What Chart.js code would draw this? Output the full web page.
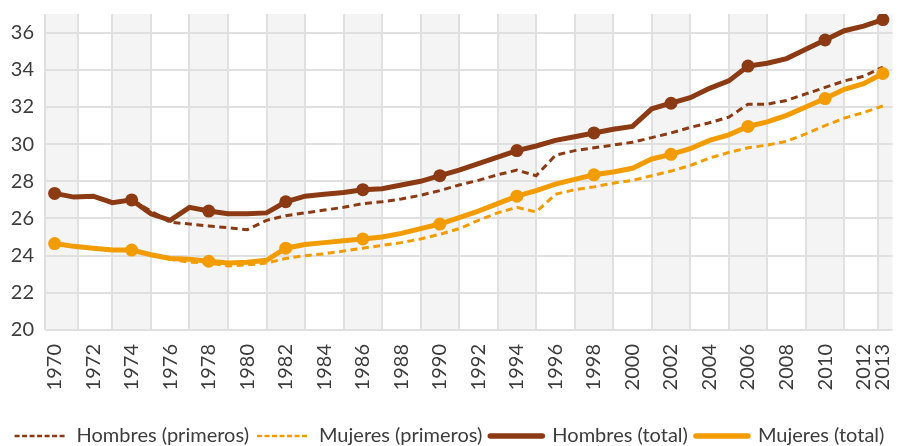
<!DOCTYPE html>
<html>
<head>
<meta charset="utf-8">
<script src="https://cdn.jsdelivr.net/npm/chart.js@4.4.1/dist/chart.umd.min.js"></script>
<style>
  html, body { margin: 0; padding: 0; background: #fff; }
  #wrap { width: 899px; height: 446px; }
</style>
</head>
<body>
<div id="wrap"><canvas id="edadChart"></canvas></div>
<script>
const years = [1970, 1971, 1972, 1973, 1974, 1975, 1976, 1977, 1978, 1979,
  1980, 1981, 1982, 1983, 1984, 1985, 1986, 1987, 1988, 1989,
  1990, 1991, 1992, 1993, 1994, 1995, 1996, 1997, 1998, 1999,
  2000, 2001, 2002, 2003, 2004, 2005, 2006, 2007, 2008, 2009,
  2010, 2011, 2012, 2013];

const hombresPrimeros = [27.35, 27.15, 27.2, 26.85, 27.0, 26.4, 25.8, 25.7, 25.6, 25.5,
  25.4, 25.9, 26.15, 26.3, 26.45, 26.6, 26.8, 26.9, 27.05, 27.25,
  27.5, 27.8, 28.05, 28.35, 28.6, 28.3, 29.4, 29.65, 29.8, 29.95,
  30.1, 30.35, 30.6, 30.9, 31.15, 31.45, 32.15, 32.15, 32.35, 32.7,
  33.05, 33.4, 33.65, 34.15];

const mujeresPrimeros = [24.65, 24.5, 24.4, 24.3, 24.3, 24.05, 23.8, 23.65, 23.6, 23.45,
  23.5, 23.6, 23.85, 24.0, 24.1, 24.25, 24.4, 24.55, 24.7, 24.9,
  25.15, 25.45, 25.9, 26.3, 26.6, 26.35, 27.3, 27.55, 27.7, 27.9,
  28.05, 28.3, 28.55, 28.85, 29.25, 29.55, 29.8, 29.95, 30.15, 30.55,
  31.0, 31.4, 31.7, 32.05];

const hombresTotal = [27.35, 27.15, 27.2, 26.85, 27.0, 26.25, 25.9, 26.6, 26.4, 26.25,
  26.25, 26.3, 26.9, 27.2, 27.3, 27.4, 27.55, 27.6, 27.8, 28.0,
  28.3, 28.6, 28.95, 29.3, 29.65, 29.9, 30.2, 30.4, 30.6, 30.8,
  30.95, 31.9, 32.2, 32.5, 33.0, 33.4, 34.2, 34.35, 34.6, 35.1,
  35.6, 36.1, 36.35, 36.7];

const mujeresTotal = [24.65, 24.5, 24.4, 24.3, 24.3, 24.05, 23.85, 23.8, 23.7, 23.6,
  23.65, 23.75, 24.4, 24.6, 24.7, 24.8, 24.9, 25.0, 25.2, 25.45,
  25.7, 26.05, 26.4, 26.8, 27.2, 27.5, 27.85, 28.1, 28.35, 28.5,
  28.7, 29.2, 29.45, 29.75, 30.2, 30.5, 30.95, 31.2, 31.55, 32.0,
  32.45, 32.95, 33.25, 33.8];

const seriesNames = ["Hombres (primeros)", "Mujeres (primeros)", "Hombres (total)", "Mujeres (total)"];

const BROWN = "#8b3a13";
const ORANGE = "#f39c00";
const GRID = "#e0e0e0";
const BAND = "#f4f4f4";
const TEXT = "#3c3c3c";

// column edges (in years) for the alternating grey/white bands
const bandEdges = [1969.5, 1971.2, 1973, 1975, 1977, 1979, 1981, 1983, 1985, 1987, 1989,
  1991, 1993, 1995, 1997, 1999, 2001, 2003, 2005, 2007, 2009, 2011, 2012.75, 2013.5];

const columnBands = {
  id: "columnBands",
  beforeDraw(chart) {
    const { ctx, chartArea: a, scales: { x } } = chart;
    const px = yr => x.getPixelForValue(yr - years[0]);
    ctx.save();
    for (let i = 0; i < bandEdges.length - 1; i++) {
      if (i % 2 === 0) {
        const l = px(bandEdges[i]), r = px(bandEdges[i + 1]);
        ctx.fillStyle = BAND;
        ctx.fillRect(l, a.top, r - l, a.bottom - a.top);
      }
    }
    ctx.strokeStyle = GRID;
    ctx.lineWidth = 2;
    for (let i = 0; i < bandEdges.length - 1; i++) {
      const p = Math.round(px(bandEdges[i]));
      ctx.beginPath();
      ctx.moveTo(p, a.top);
      ctx.lineTo(p, a.bottom);
      ctx.stroke();
    }
    ctx.restore();
  }
};

// markers every four years and on the last one
const markerRadius = ctx => {
  const yr = years[ctx.dataIndex];
  return ((yr - 1970) % 4 === 0 || ctx.dataIndex === years.length - 1) ? 6.5 : 0;
};

// legend samples: thin dashes for "primeros", thick round-capped line for "total"
const legendItems = chart => chart.data.datasets.map((d, i) => ({
  text: d.label,
  datasetIndex: i,
  fillStyle: d.borderColor,
  strokeStyle: d.borderColor,
  fontColor: TEXT,
  lineWidth: d.borderDash ? 2.5 : 5.5,
  lineDash: d.borderDash ? [5, 2.5] : [],
  lineCap: d.borderDash ? "butt" : "round",
  pointStyle: "line",
  hidden: false
}));

const ctx = document.getElementById("edadChart").getContext("2d");

new Chart(ctx, {
  type: "line",
  data: {
    labels: years.map(String),
    datasets: [
      {
        label: seriesNames[0],
        data: hombresPrimeros,
        borderColor: BROWN,
        backgroundColor: BROWN,
        borderWidth: 3,
        borderDash: [7, 4.5],
        pointRadius: 0,
        order: 2
      },
      {
        label: seriesNames[1],
        data: mujeresPrimeros,
        borderColor: ORANGE,
        backgroundColor: ORANGE,
        borderWidth: 3,
        borderDash: [7, 4.5],
        pointRadius: 0,
        order: 2
      },
      {
        label: seriesNames[2],
        data: hombresTotal,
        borderColor: BROWN,
        backgroundColor: BROWN,
        borderWidth: 5,
        borderCapStyle: "round",
        pointRadius: markerRadius,
        pointBackgroundColor: BROWN,
        pointBorderWidth: 0,
        order: 1
      },
      {
        label: seriesNames[3],
        data: mujeresTotal,
        borderColor: ORANGE,
        backgroundColor: ORANGE,
        borderWidth: 5,
        borderCapStyle: "round",
        pointRadius: markerRadius,
        pointBackgroundColor: ORANGE,
        pointBorderWidth: 0,
        order: 1
      }
    ]
  },
  options: {
    responsive: true,
    maintainAspectRatio: false,
    animation: false,
    layout: { padding: { top: 14, right: 0, left: 0, bottom: -10 } },
    plugins: {
      tooltip: { enabled: false },
      legend: {
        position: "bottom",
        labels: {
          usePointStyle: true,
          pointStyle: "line",
          pointStyleWidth: 52,
          boxWidth: 52,
          padding: 8,
          color: TEXT,
          font: { family: "Lato", size: 20 },
          generateLabels: legendItems
        }
      }
    },
    scales: {
      x: {
        offset: true,
        grid: { display: false },
        border: { display: false },
        ticks: {
          autoSkip: false,
          minRotation: 90,
          maxRotation: 90,
          padding: 6,
          color: TEXT,
          font: { family: "Lato", size: 20 },
          callback: (v, i) => (years[i] % 2 === 0 || i === years.length - 1) ? years[i] : ""
        },
        afterFit: s => { s.height = 88; s.paddingLeft = 0; s.paddingRight = 0; }
      },
      y: {
        min: 20,
        max: 37,
        grid: { color: GRID, lineWidth: 2, drawTicks: false },
        border: { display: false },
        ticks: {
          stepSize: 1,
          padding: 11,
          color: TEXT,
          font: { family: "Lato", size: 20 },
          callback: v => (v % 2 === 0 ? v : "")
        },
        afterFit: s => { s.width = 45; s.paddingTop = 0; s.paddingBottom = 0; }
      }
    }
  },
  plugins: [columnBands]
});
</script>
</body>
</html>
